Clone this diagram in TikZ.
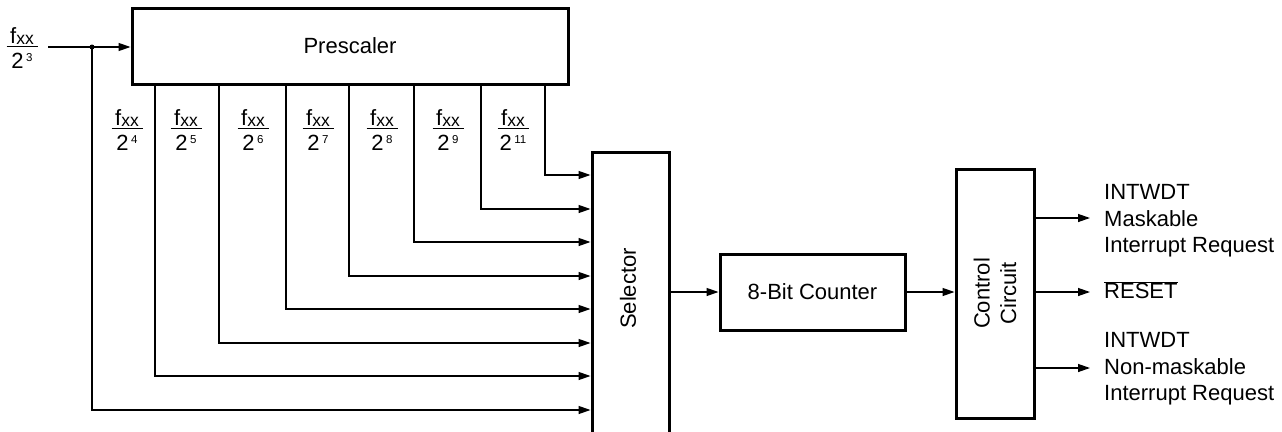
\documentclass[tikz,border=0pt]{standalone}
\usepackage{fontspec}
\setmainfont{Liberation Sans}
\usetikzlibrary{arrows.meta}
\newcommand{\frc}[1]{\vbox{\hbox to 31pt{\hss f\lower1pt\hbox{\fontsize{17.5}{17.5}\selectfont xx}\hss}\kern1.5pt\hrule height 1.1pt\kern6.5pt\hbox to 31pt{\hss 2\kern2.5pt\raise7pt\hbox{\fontsize{11.5}{11.5}\selectfont #1}\hss}}}
\tikzset{
  box/.style={draw, line width=3pt, inner sep=0pt},
  conn/.style={line width=1.3pt, -{Triangle[length=12pt,width=8pt]}},
  lbl/.style={inner sep=0pt, anchor=north},
  outtxt/.style={inner sep=0pt, anchor=west, align=left},
  every node/.style={font=\fontsize{22}{26.5}\selectfont}
}
\begin{document}
\begin{tikzpicture}[x=1pt, y=-1pt]
\useasboundingbox (0,0) rectangle (1282,431);
\clip (0,0) rectangle (1282,431);
% blocks
\node[box, minimum width=436pt, minimum height=76pt] (pre) at (350,46) {Prescaler};
\node[box, minimum width=77pt, minimum height=290pt] (sel) at (630.5,297) {};
\node[inner sep=0pt, rotate=90] (seltxt) at (628,288.5) {Selector};
\node[box, minimum width=185pt, minimum height=76pt] (cnt) at (812.5,292) {8-Bit Counter};
\node[box, minimum width=78pt, minimum height=249pt] (ctl) at (995,293.5) {};
\node[inner sep=0pt, rotate=90, align=center] (ctltxt) at (995,293.5) {Control\\Circuit};
% input
\node[lbl] (fin) at (22,27) {\frc{3}};
\coordinate (inl) at (48,47);
\coordinate (j) at (92,47);
\draw[conn] (inl) -- (pre.west |- inl);
\fill (j) circle (2.5pt);
% frequency labels
\node[lbl] (f4) at (127,109) {\frc{4}};
\node[lbl] (f5) at (186,109) {\frc{5}};
\node[lbl] (f6) at (253,109) {\frc{6}};
\node[lbl] (f7) at (318,109) {\frc{7}};
\node[lbl] (f8) at (382,109) {\frc{8}};
\node[lbl] (f9) at (448,109) {\frc{9}};
\node[lbl] (f11) at (513,109) {\frc{11}};
% taps to selector
\draw[conn] (pre.south -| 545,0) |- (sel.west |- 0,175);
\draw[conn] (pre.south -| 481,0) |- (sel.west |- 0,209);
\draw[conn] (pre.south -| 414,0) |- (sel.west |- 0,242);
\draw[conn] (pre.south -| 349,0) |- (sel.west |- 0,276);
\draw[conn] (pre.south -| 286,0) |- (sel.west |- 0,309);
\draw[conn] (pre.south -| 219,0) |- (sel.west |- 0,343);
\draw[conn] (pre.south -| 155,0) |- (sel.west |- 0,376);
\draw[conn] (j) |- (sel.west |- 0,410);
% chain
\draw[conn] (sel.east |- cnt) -- (cnt.west);
\draw[conn] (cnt.east) -- (ctl.west |- cnt);
% outputs
\coordinate (e1) at (1090,218);
\coordinate (e2) at (1090,292);
\coordinate (e3) at (1090,368);
\draw[conn] (ctl.east |- e1) -- (e1);
\draw[conn] (ctl.east |- e2) -- (e2);
\draw[conn] (ctl.east |- e3) -- (e3);
\node[outtxt] (o1) at (1104,221) {INTWDT\\Maskable\\Interrupt Request};
\node[outtxt] (o2) at (1104,290) {$\overline{\hbox{RESET}}$};
\node[outtxt] (o3) at (1104,369) {INTWDT\\Non-maskable\\Interrupt Request};
\end{tikzpicture}
\end{document}
